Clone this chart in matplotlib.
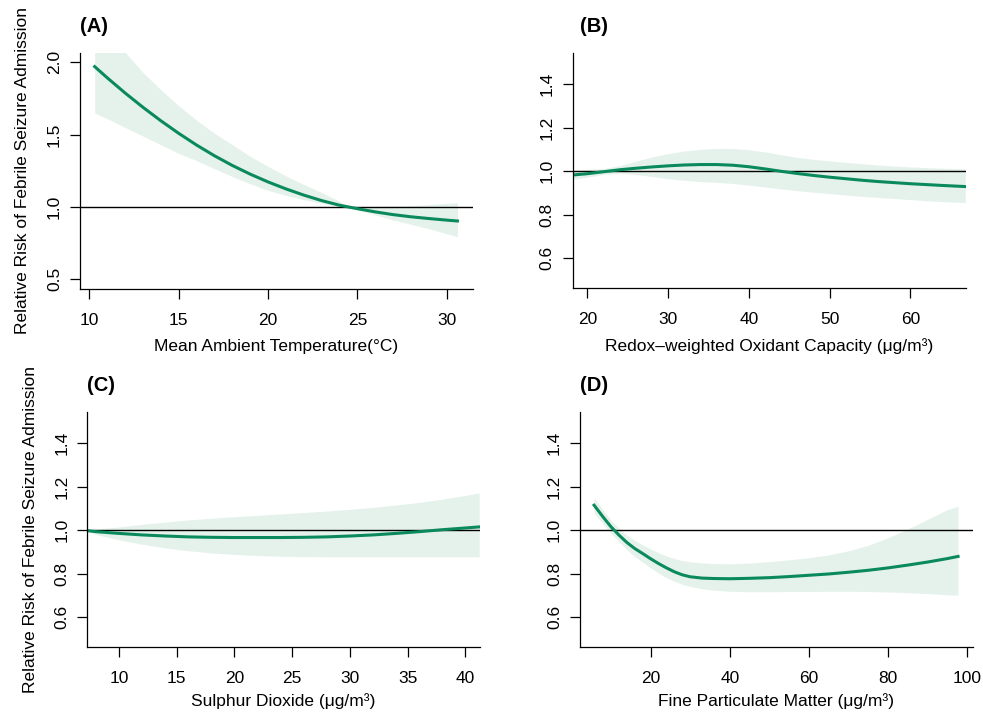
import matplotlib
matplotlib.use("Agg")
import matplotlib.pyplot as plt

plt.rcParams['font.family'] = ['Liberation Sans', 'DejaVu Sans']

# (A) temperature
temp_x = [10.3, 11, 12, 13, 14, 15, 16, 17, 18, 19, 20, 21, 22, 23, 24, 24.5, 25, 26, 27, 28, 29, 30, 30.6]
temp_rr = [1.970, 1.893, 1.788, 1.689, 1.596, 1.509, 1.428, 1.354, 1.287, 1.227, 1.173, 1.125, 1.082,
           1.044, 1.012, 1.0, 0.988, 0.966, 0.947, 0.932, 0.920, 0.909, 0.903]
temp_hi = [2.35, 2.22, 2.07, 1.93, 1.81, 1.70, 1.60, 1.51, 1.43, 1.35, 1.28, 1.215, 1.155, 1.10, 1.04,
           1.0, 1.003, 1.005, 1.007, 1.01, 1.016, 1.025, 1.03]
temp_lo = [1.65, 1.61, 1.55, 1.49, 1.43, 1.37, 1.32, 1.265, 1.21, 1.16, 1.115, 1.08, 1.05, 1.025, 1.005,
           1.0, 0.98, 0.945, 0.91, 0.88, 0.85, 0.815, 0.794]

# (B) oxidant capacity
ox_x = [18.2, 20, 22, 24, 26, 28, 30, 32, 34, 36, 38, 40, 42, 44, 46, 48, 50, 52, 54, 56, 58, 60, 62, 64, 66.8]
ox_rr = [0.982, 0.988, 0.997, 1.006, 1.013, 1.019, 1.024, 1.028, 1.030, 1.030, 1.027, 1.020, 1.010,
         0.999, 0.989, 0.980, 0.972, 0.965, 0.958, 0.952, 0.947, 0.942, 0.938, 0.934, 0.929]
ox_hi = [1.005, 1.008, 1.012, 1.025, 1.045, 1.065, 1.08, 1.092, 1.1, 1.104, 1.104, 1.098, 1.088,
         1.075, 1.063, 1.054, 1.047, 1.04, 1.034, 1.028, 1.023, 1.019, 1.016, 1.013, 1.010]
ox_lo = [0.963, 0.972, 0.985, 0.99, 0.985, 0.975, 0.965, 0.958, 0.952, 0.948, 0.943, 0.936, 0.927,
         0.918, 0.91, 0.903, 0.897, 0.89, 0.884, 0.879, 0.874, 0.869, 0.864, 0.86, 0.855]

# (C) sulphur dioxide
so2_x = [7.2, 8, 10, 12, 14, 16, 18, 20, 22, 24, 26, 28, 30, 32, 34, 36, 38, 40, 41.2]
so2_rr = [0.998, 0.993, 0.985, 0.978, 0.973, 0.969, 0.967, 0.966, 0.966, 0.966, 0.967, 0.969,
          0.973, 0.978, 0.985, 0.993, 1.002, 1.01, 1.015]
so2_hi = [1.0, 1.005, 1.015, 1.027, 1.037, 1.047, 1.055, 1.062, 1.068, 1.075, 1.081, 1.088,
          1.096, 1.105, 1.116, 1.128, 1.143, 1.16, 1.172]
so2_lo = [0.995, 0.98, 0.955, 0.935, 0.918, 0.905, 0.895, 0.888, 0.883, 0.88, 0.878, 0.877,
          0.877, 0.877, 0.877, 0.877, 0.877, 0.877, 0.877]

# (D) fine particulate matter
pm_x = [5.7, 8, 10, 12, 14, 16, 18, 20, 22, 24, 26, 28, 30, 33, 36, 40, 45, 50, 55, 60, 65, 70,
        75, 80, 85, 90, 95, 97.7]
pm_rr = [1.115, 1.06, 1.015, 0.977, 0.943, 0.915, 0.892, 0.868, 0.846, 0.826, 0.808, 0.794, 0.785,
         0.779, 0.777, 0.776, 0.778, 0.781, 0.786, 0.792, 0.798, 0.806, 0.815, 0.826, 0.839, 0.853,
         0.869, 0.879]
pm_hi = [1.15, 1.092, 1.045, 1.008, 0.977, 0.952, 0.932, 0.913, 0.896, 0.881, 0.869, 0.86, 0.854,
         0.849, 0.846, 0.845, 0.848, 0.855, 0.863, 0.873, 0.886, 0.905, 0.93, 0.965, 1.005, 1.05,
         1.095, 1.11]
pm_lo = [1.08, 1.028, 0.985, 0.948, 0.91, 0.878, 0.852, 0.826, 0.802, 0.781, 0.764, 0.75, 0.74,
         0.73, 0.723, 0.718, 0.716, 0.716, 0.717, 0.717, 0.718, 0.718, 0.717, 0.715, 0.712, 0.708,
         0.702, 0.70]

GREEN = '#0a8a5c'
BAND = '#e5f2ec'
W, H = 983, 714

panels = [
    # label, x, rr, hi, lo, xlabel, xlim, ylim, xticks, yticks, box (px: left, top, right, bottom), ylabel
    ('(A)', temp_x, temp_rr, temp_hi, temp_lo, 'Mean Ambient Temperature(°C)',
     (9.48, 31.47), (0.433, 2.064), [10, 15, 20, 25, 30], [0.5, 1.0, 1.5, 2.0],
     (80, 53, 473, 289), True),
    ('(B)', ox_x, ox_rr, ox_hi, ox_lo, 'Redox–weighted Oxidant Capacity (μg/m³)',
     (18.19, 66.86), (0.462, 1.542), [20, 30, 40, 50, 60], [0.6, 0.8, 1.0, 1.2, 1.4],
     (572.7, 53, 965.7, 288.3), False),
    ('(C)', so2_x, so2_rr, so2_hi, so2_lo, 'Sulphur Dioxide (μg/m³)',
     (7.25, 41.27), (0.46, 1.546), [10, 15, 20, 25, 30, 35, 40], [0.6, 0.8, 1.0, 1.2, 1.4],
     (87.3, 411.7, 480, 647.3), True),
    ('(D)', pm_x, pm_rr, pm_hi, pm_lo, 'Fine Particulate Matter (μg/m³)',
     (2.14, 101.4), (0.46, 1.546), [20, 40, 60, 80, 100], [0.6, 0.8, 1.0, 1.2, 1.4],
     (580, 411.7, 972.7, 647.3), False),
]

fig = plt.figure(figsize=(W / 100, H / 100), dpi=100)

for lab, x, rr, hi, lo, xlab, xlim, ylim, xt, yt, box, has_ylab in panels:
    l, t, r, b = box
    ax = fig.add_axes([l / W, 1 - b / H, (r - l) / W, (b - t) / H])
    ax.fill_between(x, lo, hi, color=BAND, lw=0)
    ax.axhline(1.0, color='black', lw=1.0)
    ax.plot(x, rr, color=GREEN, lw=2.2)
    ax.set_xlim(*xlim)
    ax.set_ylim(*ylim)
    ax.set_xticks(xt)
    ax.set_yticks(yt)
    ax.set_yticklabels([f'{v:.1f}' for v in yt], rotation=90, va='center')
    for s in ['top', 'right']:
        ax.spines[s].set_visible(False)
    for s in ['left', 'bottom']:
        ax.spines[s].set_linewidth(0.9)
    ax.tick_params(axis='x', length=7, width=0.9, pad=10, labelsize=12.5)
    ax.tick_params(axis='y', length=7, width=0.9, pad=6, labelsize=12.5)
    top_row = lab in ('(A)', '(B)')
    ax.set_xlabel(xlab, fontsize=12.5, labelpad=8 if top_row else 5)
    if has_ylab:
        ax.set_ylabel('Relative Risk of Febrile Seizure Admission', fontsize=12.5, labelpad=12)
    fig.text(l / W if lab in ('(A)', '(C)') else 580 / W, 1 - (t - 26) / H, lab,
             fontsize=14.5, fontweight='bold', ha='left', va='center')

fig.savefig('out.png', dpi=100)
